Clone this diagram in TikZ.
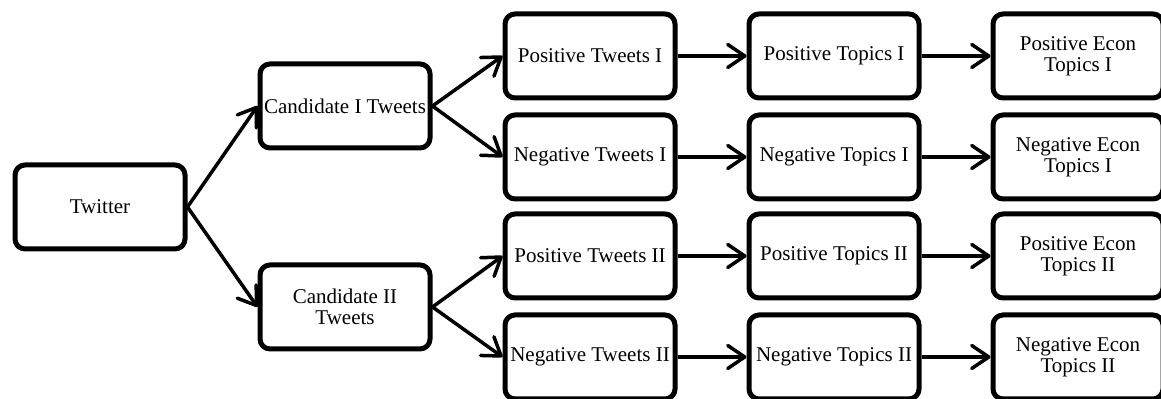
\documentclass[tikz,border=0pt]{standalone}
\usepackage{fontspec}
\setmainfont{Liberation Serif}
\usetikzlibrary{arrows.meta}
\begin{document}
\begin{tikzpicture}[x=0.5pt,y=-0.5pt,
    box/.style={draw,line width=2.5pt,rounded corners=5pt,minimum width=85pt,minimum height=42pt,
        inner sep=1pt,align=center,font=\fontsize{10.5}{10.5}\selectfont},
    link/.style={-{Straight Barb[length=8.5pt,width=11.5pt,round]},line width=1.75pt}]
    \useasboundingbox (0,0) rectangle (1161,399);
    \node[box] at (100,207) (T) {Twitter};

    \node[box] at (345,106) (C1) {Candidate I Tweets};
    \node[box] at (345,307) (C2) {Candidate II\\Tweets};

    \node[box] at (590,56) (P1) {Positive Tweets I};
    \node[box] at (590,157) (N1) {Negative Tweets I};
    \node[box] at (590,256) (P2) {Positive Tweets II};
    \node[box] at (590,357) (N2) {Negative Tweets II};

    \node[box] at (834,56) (PT1) {Positive Topics I};
    \node[box] at (834,157) (NT1) {Negative Topics I};
    \node[box] at (834,256) (PT2) {Positive Topics II};
    \node[box] at (834,357) (NT2) {Negative Topics II};

    \node[box] at (1078,56) (PE1) {Positive Econ\\Topics I};
    \node[box] at (1078,157) (NE1) {Negative Econ\\Topics I};
    \node[box] at (1078,256) (PE2) {Positive Econ\\Topics II};
    \node[box] at (1078,357) (NE2) {Negative Econ\\Topics II};

    \draw[link] (T.east) -- (C1.west);
    \draw[link] (T.east) -- (C2.west);
    \draw[link] (C1.east) -- (P1.west);
    \draw[link] (C1.east) -- (N1.west);
    \draw[link] (C2.east) -- (P2.west);
    \draw[link] (C2.east) -- (N2.west);
    %\draw[link] (P1) -- (N1);
    \draw[link] (P1.east) -- (PT1.west);
    \draw[link] (N1.east) -- (NT1.west);
    \draw[link] (P2.east) -- (PT2.west);
    \draw[link] (N2.east) -- (NT2.west);
    \draw[link] (PT1.east) -- (PE1.west);
    \draw[link] (NT1.east) -- (NE1.west);
    \draw[link] (PT2.east) -- (PE2.west);
    \draw[link] (NT2.east) -- (NE2.west);
\end{tikzpicture}
\end{document}
